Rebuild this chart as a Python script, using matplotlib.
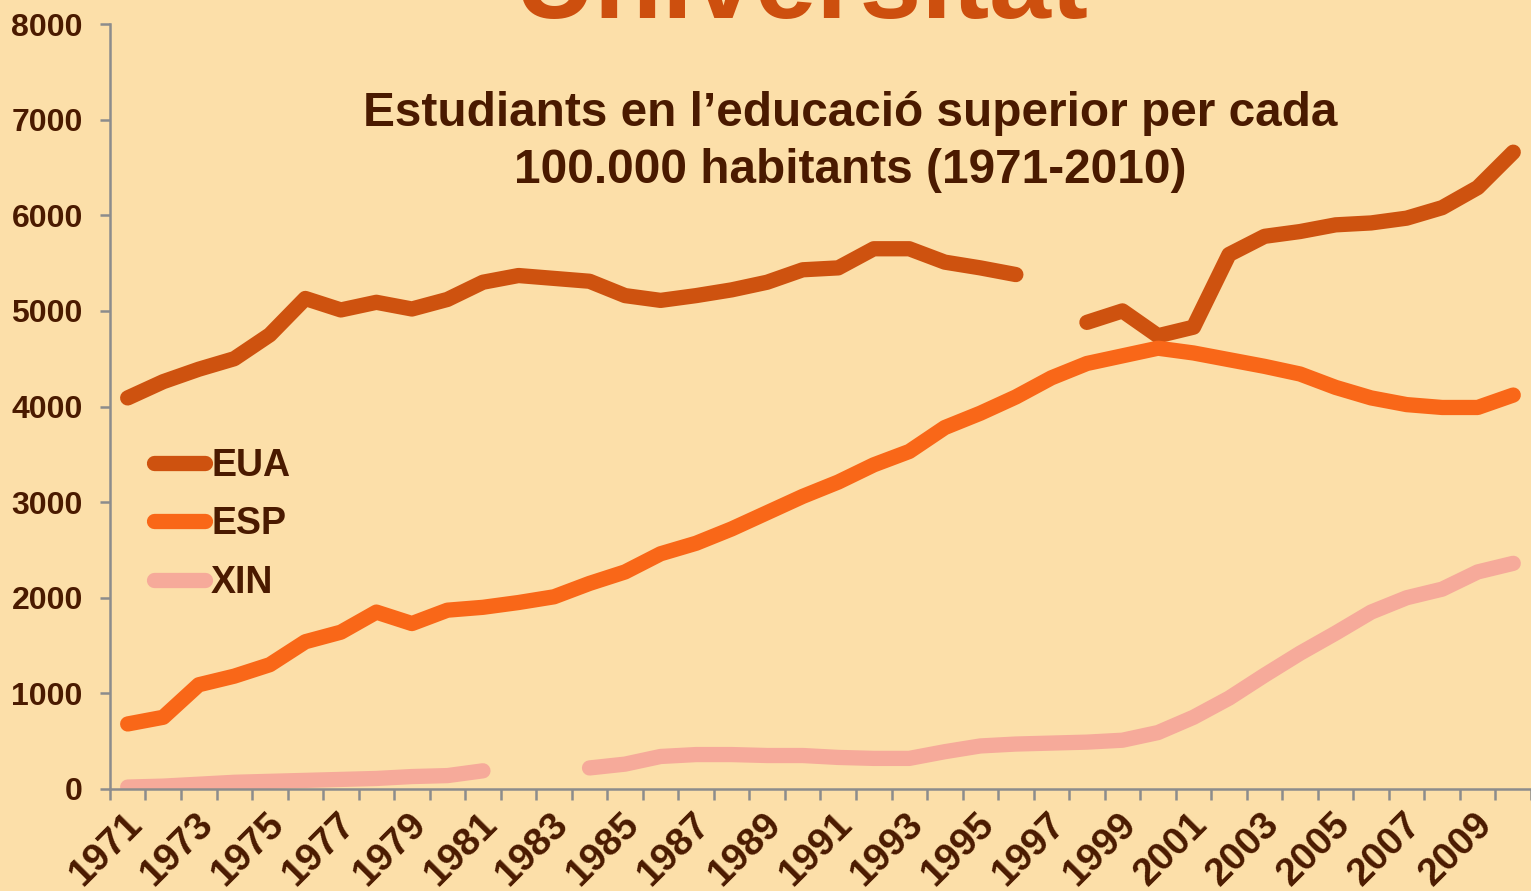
import numpy as np
import matplotlib
matplotlib.use("Agg")
import matplotlib.pyplot as plt
import matplotlib.transforms as mtransforms
from matplotlib.ticker import FixedLocator

# data (students per 100.000 inhabitants)
years = list(range(1971, 2011))
nan = np.nan
eua = [4090, 4260, 4390, 4500, 4750, 5130, 5010, 5090, 5020, 5120,
       5300, 5370, 5340, 5310, 5160, 5110, 5160, 5220, 5300, 5430,
       5450, 5650, 5650, 5510, 5450, 5380, nan, 4880, 5000, 4740,
       4830, 5590, 5780, 5830, 5900, 5920, 5970, 6080, 6290, 6660]
esp = [680, 750, 1090, 1180, 1300, 1540, 1640, 1850, 1730, 1870,
       1900, 1950, 2010, 2150, 2270, 2460, 2570, 2720, 2890, 3060,
       3210, 3390, 3530, 3780, 3930, 4100, 4300, 4450, 4530, 4610,
       4560, 4490, 4420, 4340, 4200, 4090, 4020, 3990, 3990, 4120]
xin = [20, 30, 50, 70, 80, 90, 100, 110, 130, 140,
       190, nan, nan, 220, 260, 340, 360, 360, 350, 350,
       330, 320, 320, 390, 450, 470, 480, 490, 510, 590,
       750, 950, 1190, 1420, 1630, 1850, 2000, 2090, 2270, 2360]
series = [("EUA", eua, "#CE520F"), ("ESP", esp, "#F96718"), ("XIN", xin, "#F6AA9A")]

bg = "#FCDFA9"
txt = "#4A1A00"
grey = "#8C8C8C"

plt.rcParams['font.family'] = ['Liberation Sans', 'DejaVu Sans']
plt.rcParams['font.weight'] = 'bold'

fig = plt.figure(figsize=(15.31, 8.91), dpi=100, facecolor=bg)
ax = fig.add_axes([0.0718, 0.1145, 0.9282, 0.8585], facecolor=bg)

x = np.arange(len(years))
for name, vals, col in series:
    ax.plot(x, vals, color=col, lw=11, solid_capstyle='round',
            solid_joinstyle='round', label=name)

ax.set_xlim(-0.5, len(years) - 0.5)
ax.set_ylim(0, 8000)
ax.set_yticks(range(0, 8001, 1000))
ax.set_xticks(x[::2])
ax.set_xticklabels([str(y) for y in years[::2]], rotation=45, ha='right',
                   rotation_mode='anchor')
ax.xaxis.set_minor_locator(FixedLocator(np.arange(-0.5, len(years), 1)))
ax.tick_params(axis='x', which='major', length=0, pad=12, labelsize=28,
               labelcolor=txt)
ax.tick_params(axis='x', which='minor', length=8, width=1.8, color=grey,
               direction='out')
ax.tick_params(axis='y', length=7.5, width=1.8, color=grey, labelsize=23,
               labelcolor=txt, pad=12)
shift = mtransforms.ScaledTranslation(-4 / 100, 0, fig.dpi_scale_trans)
for lab in ax.get_xticklabels():
    lab.set_fontweight('bold')
    lab.set_transform(lab.get_transform() + shift)
for lab in ax.get_yticklabels():
    lab.set_fontweight('bold')

for s in ['top', 'right']:
    ax.spines[s].set_visible(False)
for s in ['left', 'bottom']:
    ax.spines[s].set_color(grey)
    ax.spines[s].set_linewidth(1.8)

leg = ax.legend(loc='center left', bbox_to_anchor=(0.0313, 0.346), frameon=False,
                handlelength=1.36, handletextpad=0.15, labelspacing=0.6,
                borderpad=0, borderaxespad=0,
                prop={'size': 27, 'weight': 'bold'})
for t in leg.get_texts():
    t.set_color(txt)

fig.text(801.5 / 1531, 1 - 18 / 891, "Universitat", ha='center', va='baseline',
         fontsize=80, fontweight='bold', color="#CD4F0E")
fig.text(850.5 / 1531, 1 - 142 / 891,
         "Estudiants en l\u2019educació superior per cada\n100.000 habitants (1971-2010)",
         ha='center', va='center', fontsize=34.4, fontweight='bold', color=txt,
         linespacing=1.36)

fig.savefig("out.png", dpi=100, facecolor=bg)
